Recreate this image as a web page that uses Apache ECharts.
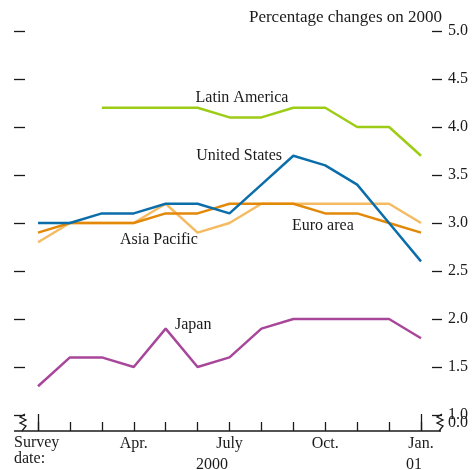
<!DOCTYPE html>
<html>
<head>
<meta charset="utf-8" />
<title>Percentage changes on 2000</title>
<script src="https://cdn.jsdelivr.net/npm/echarts@6/dist/echarts.min.js"></script>
<style>
  html, body { margin: 0; padding: 0; background: #fff; }
  #main { width: 474px; height: 470px; }
</style>
</head>
<body>
<div id="main"></div>
<script>
// survey dates, monthly from Jan. 2000 to Jan. 2001
var months = ['Jan.', 'Feb.', 'Mar.', 'Apr.', 'May', 'June', 'July', 'Aug.', 'Sep.', 'Oct.', 'Nov.', 'Dec.', 'Jan.'];

var latinAmerica = [null, null, 4.2, 4.2, 4.2, 4.2, 4.1, 4.1, 4.2, 4.2, 4.0, 4.0, 3.7];
var unitedStates = [3.0, 3.0, 3.1, 3.1, 3.2, 3.2, 3.1, 3.4, 3.7, 3.6, 3.4, 3.0, 2.6];
var euroArea     = [2.9, 3.0, 3.0, 3.0, 3.1, 3.1, 3.2, 3.2, 3.2, 3.1, 3.1, 3.0, 2.9];
var asiaPacific  = [2.8, 3.0, 3.0, 3.0, 3.2, 2.9, 3.0, 3.2, 3.2, 3.2, 3.2, 3.2, 3.0];
var japan        = [1.3, 1.6, 1.6, 1.5, 1.9, 1.5, 1.6, 1.9, 2.0, 2.0, 2.0, 2.0, 1.8];

var yTicks = [1.0, 1.5, 2.0, 2.5, 3.0, 3.5, 4.0, 4.5, 5.0];

var serif = '"Liberation Serif", "DejaVu Serif", serif';
var ink = '#1a1a1a';

var chart = echarts.init(document.getElementById('main'));

function line(name, data, color, z) {
  return {
    name: name,
    type: 'line',
    data: data,
    symbol: 'none',
    z: z,
    lineStyle: { color: color, width: 2.5 },
    connectNulls: false,
    animation: false
  };
}

// little zigzag for the broken axis
function breakMark(x, y) {
  return {
    type: 'polyline',
    shape: { points: [[x, y], [x - 5, y + 3], [x + 1, y + 6], [x - 5, y + 9], [x + 1, y + 12], [x - 3, y + 17]] },
    style: { stroke: ink, lineWidth: 1.3, fill: null }
  };
}

chart.setOption({
  backgroundColor: '#fff',
  animation: false,
  grid: { left: 38, right: 53, top: 31, bottom: 39 },
  xAxis: [{
    type: 'category',
    data: months,
    boundaryGap: false,
    axisLine: { show: false },
    axisTick: { show: true, inside: true, length: 9, interval: 0, lineStyle: { color: ink, width: 1.3 } },
    axisLabel: {
      interval: function (i) { return i > 0 && i % 3 === 0; },
      color: ink, fontFamily: serif, fontSize: 16, margin: 5
    },
    splitLine: { show: false }
  }, {
    type: 'category',
    data: months,
    boundaryGap: false,
    position: 'bottom',
    axisLine: { show: false },
    axisTick: {
      show: true, inside: true, length: 17,
      interval: function (i) { return i === 0 || i === 12; },
      lineStyle: { color: ink, width: 1.3 }
    },
    axisLabel: { show: false },
    splitLine: { show: false }
  }],
  yAxis: [{
    type: 'value',
    position: 'right',
    offset: 11,
    min: 1 - 16 / 96,
    max: 5,
    axisLine: { show: false },
    axisTick: { show: true, length: 10, customValues: yTicks, lineStyle: { color: ink, width: 1.3 } },
    axisLabel: {
      customValues: yTicks,
      margin: 16,
      color: ink, fontFamily: serif, fontSize: 16,
      formatter: function (v) { return v.toFixed(1); }
    },
    splitLine: { show: false }
  }, {
    type: 'value',
    position: 'left',
    offset: 13,
    min: 1 - 16 / 96,
    max: 5,
    axisLine: { show: false },
    axisTick: { show: true, length: 11, customValues: yTicks, lineStyle: { color: ink, width: 1.3 } },
    axisLabel: { show: false },
    splitLine: { show: false }
  }],
  series: [
    line('Asia Pacific', asiaPacific, '#f5bb62', 2),
    line('Euro area', euroArea, '#e3890a', 3),
    line('United States', unitedStates, '#0b6eaa', 4),
    line('Latin America', latinAmerica, '#9dcc16', 3),
    line('Japan', japan, '#a8479a', 3)
  ],
  graphic: [
    // baseline
    { type: 'line', shape: { x1: 14, y1: 431, x2: 441, y2: 431 }, style: { stroke: ink, lineWidth: 1.5 } },
    breakMark(25, 414),
    breakMark(442, 414),
    // "0.0" under the break
    { type: 'text', left: 448, top: 415, style: { text: '0.0', font: '16px ' + serif, fill: ink } },
    // title
    { type: 'text', right: 32, top: 9, style: { text: 'Percentage changes on 2000', font: '17px ' + serif, fill: ink } },
    // series names
    { type: 'text', x: 242, y: 98, style: { text: 'Latin America', font: '16px ' + serif, fill: ink, align: 'center', verticalAlign: 'middle' } },
    { type: 'text', x: 282, y: 156, style: { text: 'United States', font: '16px ' + serif, fill: ink, align: 'right', verticalAlign: 'middle' } },
    { type: 'text', x: 292, y: 226, style: { text: 'Euro area', font: '16px ' + serif, fill: ink, align: 'left', verticalAlign: 'middle' } },
    { type: 'text', x: 120, y: 240, style: { text: 'Asia Pacific', font: '16px ' + serif, fill: ink, align: 'left', verticalAlign: 'middle' } },
    { type: 'text', x: 175, y: 325, style: { text: 'Japan', font: '16px ' + serif, fill: ink, align: 'left', verticalAlign: 'middle' } },
    // x axis captions
    { type: 'text', x: 14, y: 435, style: { text: 'Survey\ndate:', font: '16px ' + serif, fill: ink, lineHeight: 16, align: 'left', verticalAlign: 'top' } },
    { type: 'text', x: 212, y: 457, style: { text: '2000', font: '16px ' + serif, fill: ink, align: 'center', verticalAlign: 'top' } },
    { type: 'text', x: 414, y: 457, style: { text: '01', font: '16px ' + serif, fill: ink, align: 'center', verticalAlign: 'top' } }
  ]
});

window.onresize = function () {
  chart.resize();
};
</script>
</body>
</html>
